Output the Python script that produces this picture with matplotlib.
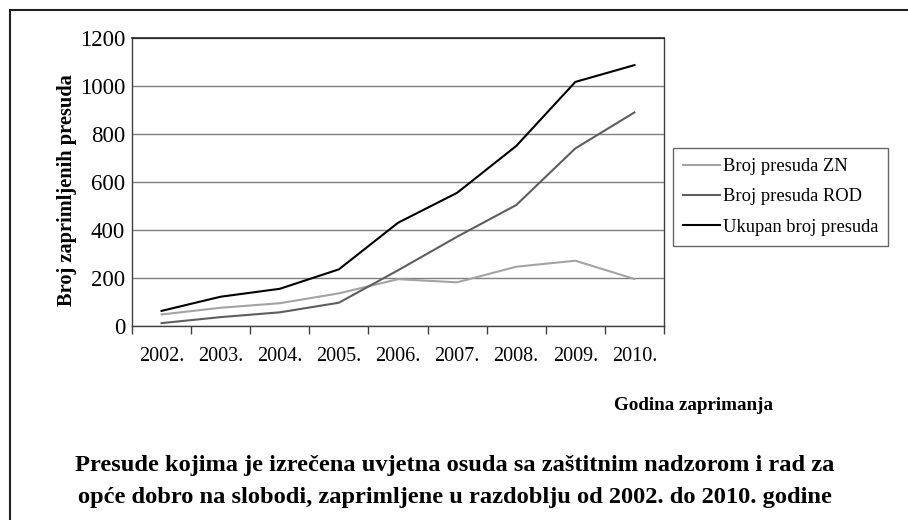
import numpy as np
import matplotlib
matplotlib.use("Agg")
import matplotlib.pyplot as plt
from matplotlib.lines import Line2D

plt.rcParams['font.family'] = ['Liberation Serif', 'DejaVu Serif']

# data
years = ['2002.', '2003.', '2004.', '2005.', '2006.', '2007.', '2008.', '2009.', '2010.']
zn = [48, 76, 95, 136, 195, 182, 247, 272, 196]
rod = [12, 37, 57, 97, 232, 372, 504, 740, 890]
ukupno = [63, 122, 155, 236, 430, 555, 750, 1017, 1087]
series_labels = ['Broj presuda ZN', 'Broj presuda ROD', 'Ukupan broj presuda']
series_colors = ['#a3a3a3', '#5e5e5e', '#000000']

W, H = 908, 520
fig = plt.figure(figsize=(W / 100, H / 100), dpi=100)
ax = fig.add_axes([132 / W, 1 - 326 / H, (664 - 132) / W, (326 - 38) / H])

x = np.arange(len(years))
for vals, lab, col in zip([zn, rod, ukupno], series_labels, series_colors):
    ax.plot(x, vals, color=col, lw=1.5, label=lab, solid_joinstyle='miter')

ax.set_xlim(-0.5, len(years) - 0.5)
ax.set_ylim(0, 1200)
ax.set_yticks(range(0, 1201, 200))
ax.yaxis.grid(True, color='#808080', lw=1)
ax.set_axisbelow(True)

# category labels at centres, tick marks on boundaries
ax.set_xticks(x)
ax.set_xticklabels(years, fontsize=14.5)
ax.set_xticks(np.arange(-0.5, len(years), 1.0), minor=True)
ax.tick_params(axis='x', which='major', length=0, pad=15)
ax.tick_params(axis='x', which='minor', length=6, width=1, color='#404040', direction='out')
ax.tick_params(axis='y', length=0, pad=5, labelsize=16.5)

for side in ['left', 'bottom']:
    ax.spines[side].set_color('#404040')
    ax.spines[side].set_linewidth(1)
ax.spines['top'].set_color('#202020')
ax.spines['top'].set_linewidth(1.2)
ax.spines['right'].set_color('#404040')
ax.spines['right'].set_linewidth(1)

fig.text(67 / W, 1 - 190 / H, 'Broj zaprimljenih presuda', rotation=90,
         fontsize=14.7, fontweight='bold', ha='center', va='center')
fig.text(694 / W, 1 - 406 / H, 'Godina zaprimanja', fontsize=13.7,
         fontweight='bold', ha='center', va='center')
fig.text(455 / W, 1 - 466 / H,
         'Presude kojima je izrečena uvjetna osuda sa zaštitnim nadzorom i rad za',
         fontsize=17.6, fontweight='bold', ha='center', va='center')
fig.text(455 / W, 1 - 497 / H,
         'opće dobro na slobodi, zaprimljene u razdoblju od 2002. do 2010. godine',
         fontsize=17.6, fontweight='bold', ha='center', va='center')

leg = fig.legend(loc='upper left', bbox_to_anchor=(673 / W, 1 - 148 / H),
                 fontsize=13.3, frameon=True, fancybox=False, borderaxespad=0,
                 handlelength=2.0, handletextpad=0.15, labelspacing=0.72,
                 borderpad=0.55)
leg.get_frame().set_edgecolor('#404040')
leg.get_frame().set_linewidth(1)

# outer frame (left and top edges only)
fig.add_artist(Line2D([10 / W, 10 / W], [0, 1 - 10 / H], transform=fig.transFigure,
                      color='#202020', lw=1.5))
fig.add_artist(Line2D([10 / W, 1], [1 - 10 / H, 1 - 10 / H], transform=fig.transFigure,
                      color='#202020', lw=1.5))

fig.savefig('out.png', dpi=100)
